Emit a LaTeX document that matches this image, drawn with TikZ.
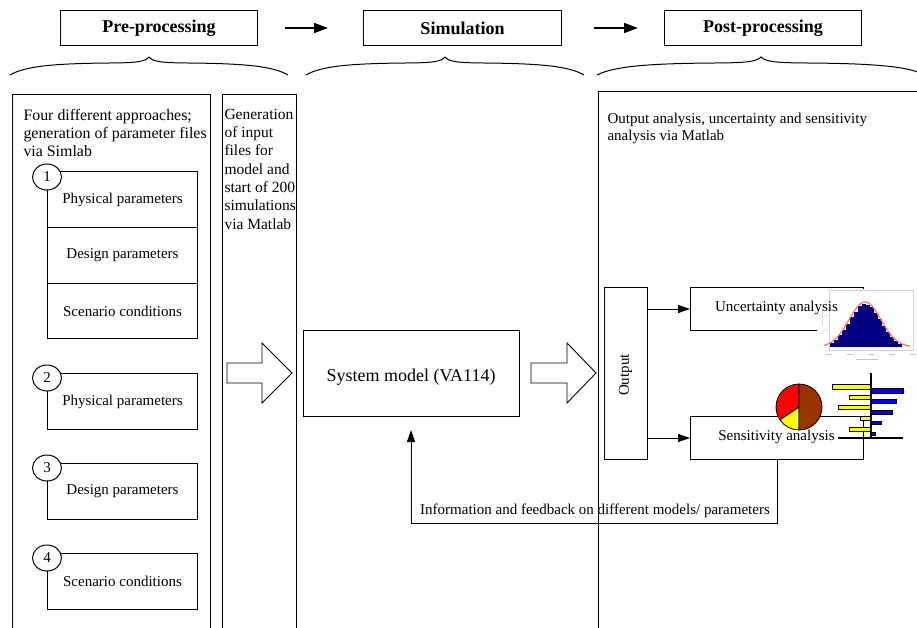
\documentclass[tikz,border=0pt]{standalone}
\usepackage{fontspec}
\setmainfont{Liberation Serif}
\usetikzlibrary{arrows.meta,shapes.geometric}
\definecolor{navyb}{RGB}{0,0,128}
\definecolor{pinkc}{RGB}{255,110,110}
\definecolor{piebrown}{RGB}{153,51,0}
\definecolor{barblue}{RGB}{0,0,255}
\definecolor{baryellow}{RGB}{255,255,0}
\begin{document}
\begin{tikzpicture}[x=1pt,y=-1pt, line width=1pt,
  box/.style={draw, inner sep=0pt, anchor=north west},
  hdr/.style={box, minimum width=197pt, minimum height=35pt, font=\fontsize{18}{21}\selectfont\bfseries},
  txt/.style={font=\fontsize{15}{17}\selectfont},
  paratxt/.style={inner sep=0pt, anchor=north west, align=left, font=\fontsize{15.5}{18.3}\selectfont},
  parbox/.style={box, minimum width=150pt, minimum height=56pt, font=\fontsize{15}{17}\selectfont},
  numc/.style={ellipse, draw, fill=white, minimum width=29pt, minimum height=26pt, inner sep=0pt, font=\fontsize{15}{17}\selectfont},
  bigarrow/.style={draw, fill=white, line width=0.9pt},
  harrow/.style={line width=1.6pt, -{Triangle[length=14pt,width=10pt]}},
  tarrow/.style={line width=1pt, -{Triangle[length=12pt,width=8pt]}},
  curlybr/.pic={\draw[line width=1pt] (0,18) .. controls (15,9) and (45,6.5) .. (100,6) .. controls (125,5.8) and (135,5) .. (139,0) .. controls (143,5) and (153,5.8) .. (178,6) .. controls (233,6.5) and (263,9) .. (278,18);},
  ybar/.style={fill=baryellow, draw=black, line width=0.6pt},
  bbar/.style={fill=barblue, draw=black, line width=0.6pt}
]
\useasboundingbox (0,0) rectangle (917,628);
\clip (0,0) rectangle (917,628);
\fill[white] (0,0) rectangle (917,628);

% headers
\node[hdr] (pre) at (60,10) {Pre-processing};
\node[hdr, minimum width=198pt] (sim) at (363,10) {Simulation};
\node[hdr] (post) at (664,10) {Post-processing};
\coordinate (h1a) at (285,28); \coordinate (h1b) at (328,28);
\coordinate (h2a) at (594,28); \coordinate (h2b) at (638,28);
\draw[harrow] (h1a) -- (h1b);
\draw[harrow] (h2a) -- (h2b);

% braces
\pic at (10,57) {curlybr};
\pic at (306,57) {curlybr};
\pic[xscale=1.18] at (597,57) {curlybr};

% panels
\node[box, minimum width=198pt, minimum height=560pt] (p1) at (12,94) {};
\node[box, minimum width=74pt, minimum height=560pt] (p2) at (222,94) {};
\node[box, minimum width=340pt, minimum height=560pt] (p3) at (598,91) {};

\node[paratxt, font=\fontsize{15.9}{18.3}\selectfont] (p1t) at (23,108.5) {Four different approaches;\\ generation of parameter files\\ via Simlab};
\node[paratxt] (p2t) at (224,108.5) {Generation\\ of input\\ files for\\ model and\\ start of 200\\ simulations\\ via Matlab};
\node[paratxt, font=\fontsize{15}{17}\selectfont] (p3t) at (607,113) {Output analysis, uncertainty and sensitivity\\ analysis via Matlab};

% parameter groups
\node[parbox] (g1a) at (47,171) {Physical parameters};
\node[parbox] (g1b) at (47,227) {Design parameters};
\node[parbox, minimum height=55pt] (g1c) at (47,283) {Scenario conditions};
\node[numc] (n1) at (47,177) {1};
\node[parbox] (g2) at (47,373) {Physical parameters};
\node[numc] (n2) at (47,378) {2};
\node[parbox] (g3) at (47,463) {Design parameters};
\node[numc] (n3) at (47,468) {3};
\node[parbox] (g4) at (47,553) {Scenario conditions};
\node[numc] (n4) at (47,558) {4};

% block arrows
\draw[bigarrow] (227,363) -- (262,363) -- (262,343) -- (292,373) -- (262,403) -- (262,383) -- (227,383) -- cycle;
\draw[bigarrow] (531,363) -- (567,363) -- (567,343) -- (596,373) -- (567,403) -- (567,383) -- (531,383) -- cycle;

% system model
\node[box, minimum width=216pt, minimum height=86pt] (sys) at (303,330) {};
\node[font=\fontsize{18}{21}\selectfont] (syst) at (411,377) {System model (VA114)};

% output and analyses
\node[box, minimum width=43pt, minimum height=172pt] (out) at (604,287) {};
\node[txt, rotate=90] (outt) at (625.5,375) {Output};
\node[box, minimum width=173pt, minimum height=43pt] (unc) at (690,287) {};
\node[box, minimum width=173pt, minimum height=43pt] (sens) at (690,416) {};
\draw[tarrow] (out.east |- unc.west) -- (unc.west);
\draw[tarrow] (out.east |- sens.west) -- (sens.west);

% feedback
\coordinate (fbtip) at (411,430);
\coordinate (fbbot) at (sens.south |- 0,523);
\draw[tarrow] (sens.south) -- (fbbot) -| (fbtip);
\node[txt] (fbl) at (595,511) {Information and feedback on different models/ parameters};

% histogram picture
\fill[white] (817,289) rectangle (917,358);
\draw[gray!35, line width=0.5pt] (829,290) rectangle (913,350);
\foreach \c/\h in {832/4,836/7,840/12,844/17,848/23,852/30,856/35,860/41,864/43,868/42,872/40,876/34,880/28,884/21,888/15,892/10,896/6,900/3}
  \fill[navyb] ({\c-2},347) rectangle ({\c+2},{347-\h});
\draw[pinkc, line width=1.2pt] plot[domain=824:910, samples=60, smooth] (\x, {347-45*exp(-((\x-865)^2)/512)});
\foreach \x in {829,850,871,892,913}
  \draw[gray!45, line width=1pt] ({\x-3},354) -- ({\x+3},354);
\draw[gray!45, line width=1pt] (856,359) -- (878,359);
\draw[gray!35, line width=1pt] (822,308) -- (822,326);
\foreach \y in {300,315,330,345}
  \draw[gray!35, line width=0.8pt] (825,\y) -- (827,\y);
\node[txt] (unct) at (776.5,308) {Uncertainty analysis};

% pie chart
\begin{scope}[shift={(799,407)}, yscale=-1, line width=0.8pt]
  \filldraw[fill=red, draw=black] (0,0) -- (90:23) arc[start angle=90, end angle=214, radius=23] -- cycle;
  \filldraw[fill=baryellow, draw=black] (0,0) -- (214:23) arc[start angle=214, end angle=270, radius=23] -- cycle;
  \filldraw[fill=piebrown, draw=black] (0,0) -- (-90:23) arc[start angle=-90, end angle=90, radius=23] -- cycle;
\end{scope}

% bar chart
\draw[ybar] (832,384) rectangle (871,389);
\draw[bbar] (871,388) rectangle (903,393);
\draw[ybar] (849,395) rectangle (871,399);
\draw[bbar] (871,399) rectangle (896,403);
\draw[ybar] (838,405) rectangle (871,409);
\draw[bbar] (871,410) rectangle (892,414);
\draw[ybar] (860,416) rectangle (871,420);
\draw[bbar] (871,421) rectangle (881,424);
\draw[ybar] (849,427) rectangle (871,431);
\draw[bbar] (871,432) rectangle (875,435);
\draw[line width=1.5pt] (871,373) -- (871,438);
\draw[line width=1.5pt] (838,438) -- (903,438);

\node[txt] (senst) at (776.5,437) {Sensitivity analysis};
\end{tikzpicture}
\end{document}
